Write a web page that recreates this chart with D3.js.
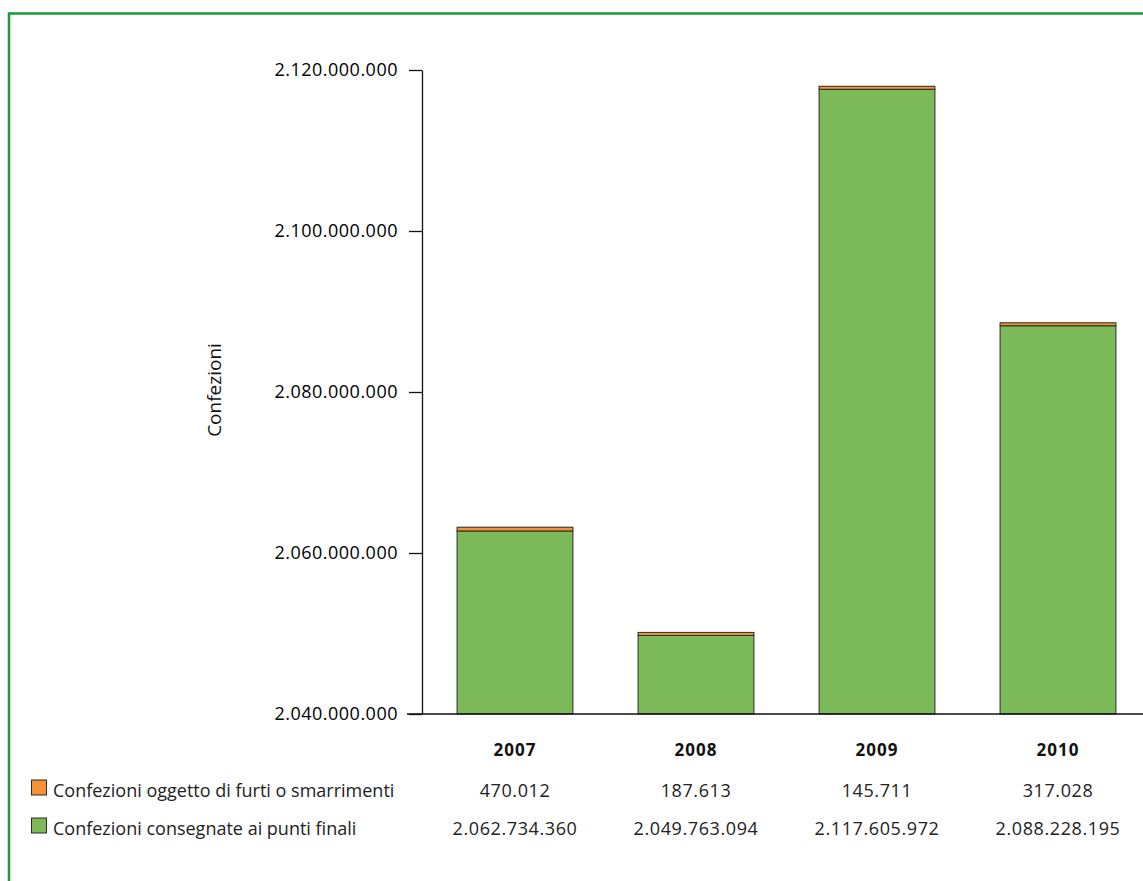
<!DOCTYPE html>
<html>
<head>
<meta charset="utf-8">
<script src="https://cdn.jsdelivr.net/npm/d3@7"></script>
<style>
  body { margin: 0; background: #fff; }
  svg { display: block; font-family: "Open Sans", sans-serif; }
</style>
</head>
<body>
<div id="chart"></div>
<script>
const years = ["2007", "2008", "2009", "2010"];
const stolen = [470012, 187613, 145711, 317028];
const delivered = [2062734360, 2049763094, 2117605972, 2088228195];
const yTicks = [2040000000, 2060000000, 2080000000, 2100000000, 2120000000];
const seriesNames = ["Confezioni oggetto di furti o smarrimenti", "Confezioni consegnate ai punti finali"];
const seriesColors = ["#f39237", "#7cba59"];

const width = 1143, height = 881;
const it = d3.formatLocale({ decimal: ",", thousands: ".", grouping: [3], currency: ["", "€"] });
const fmt = it.format(",d");

const svg = d3.select("#chart").append("svg")
    .attr("width", width)
    .attr("height", height);

// cornice verde
svg.append("rect")
    .attr("x", 9).attr("y", 13.5)
    .attr("width", width + 10).attr("height", height + 10)
    .attr("fill", "none")
    .attr("stroke", "#18993b")
    .attr("stroke-width", 2.5);

const y = d3.scaleLinear().domain([2040000000, 2120000000]).range([714, 70]);
const x = d3.scaleBand().domain(years).range([424.5, 1148.5]).paddingInner(0.36).paddingOuter(0.18);

// barre (la fascia arancione ha un'altezza minima per restare visibile)
const g = svg.append("g");
years.forEach((yr, i) => {
  const x0 = x(yr), w = x.bandwidth();
  const top = y(delivered[i]);
  const h = Math.max(y(delivered[i]) - y(delivered[i] + stolen[i]), 3);
  g.append("rect")
      .attr("x", x0).attr("y", top)
      .attr("width", w).attr("height", y(2040000000) - top)
      .attr("fill", seriesColors[1]).attr("stroke", "#2a2a2a").attr("stroke-width", 1);
  g.append("rect")
      .attr("x", x0).attr("y", top - h)
      .attr("width", w).attr("height", h)
      .attr("fill", seriesColors[0]).attr("stroke", "#2a2a2a").attr("stroke-width", 1);
});

// asse y
const yAxis = svg.append("g")
    .attr("transform", "translate(422,0)")
    .call(d3.axisLeft(y).tickValues(yTicks).tickFormat(fmt).tickSize(13).tickSizeOuter(0).tickPadding(11));
yAxis.select(".domain").attr("stroke", "#111").attr("stroke-width", 1.3);
yAxis.selectAll(".tick line").attr("stroke", "#111").attr("stroke-width", 1.3);
yAxis.selectAll(".tick text")
    .attr("font-family", "Open Sans, sans-serif")
    .attr("font-size", 18).attr("letter-spacing", 0.5).attr("fill", "#000");

// asse x
svg.append("line")
    .attr("x1", 407).attr("x2", width)
    .attr("y1", y(2040000000)).attr("y2", y(2040000000))
    .attr("stroke", "#111").attr("stroke-width", 1.3);

svg.append("text")
    .attr("transform", "translate(221,390) rotate(-90)")
    .attr("text-anchor", "middle")
    .attr("font-size", 19).attr("fill", "#111")
    .text("Confezioni");

// tabella dati
svg.selectAll(".yr").data(years).join("text")
    .attr("x", d => x(d) + x.bandwidth() / 2).attr("y", 756)
    .attr("text-anchor", "middle")
    .attr("font-size", 17).attr("letter-spacing", 1).attr("font-weight", "bold").attr("fill", "#111")
    .text(d => d);

const rows = [stolen, delivered];
rows.forEach((vals, r) => {
  const ry = 797 + r * 38;
  svg.append("rect")
      .attr("x", 31.5).attr("y", ry - 17)
      .attr("width", 15).attr("height", 15)
      .attr("fill", seriesColors[r]).attr("stroke", "#2a2a2a").attr("stroke-width", 1);
  svg.append("text")
      .attr("x", 53).attr("y", ry)
      .attr("font-size", 18).attr("fill", "#222")
      .text(seriesNames[r]);
  svg.selectAll(".v" + r).data(vals).join("text")
      .attr("x", (d, i) => x(years[i]) + x.bandwidth() / 2).attr("y", ry)
      .attr("text-anchor", "middle")
      .attr("font-size", 18).attr("letter-spacing", 0.6).attr("fill", "#222")
      .text(d => fmt(d));
});
</script>
</body>
</html>
